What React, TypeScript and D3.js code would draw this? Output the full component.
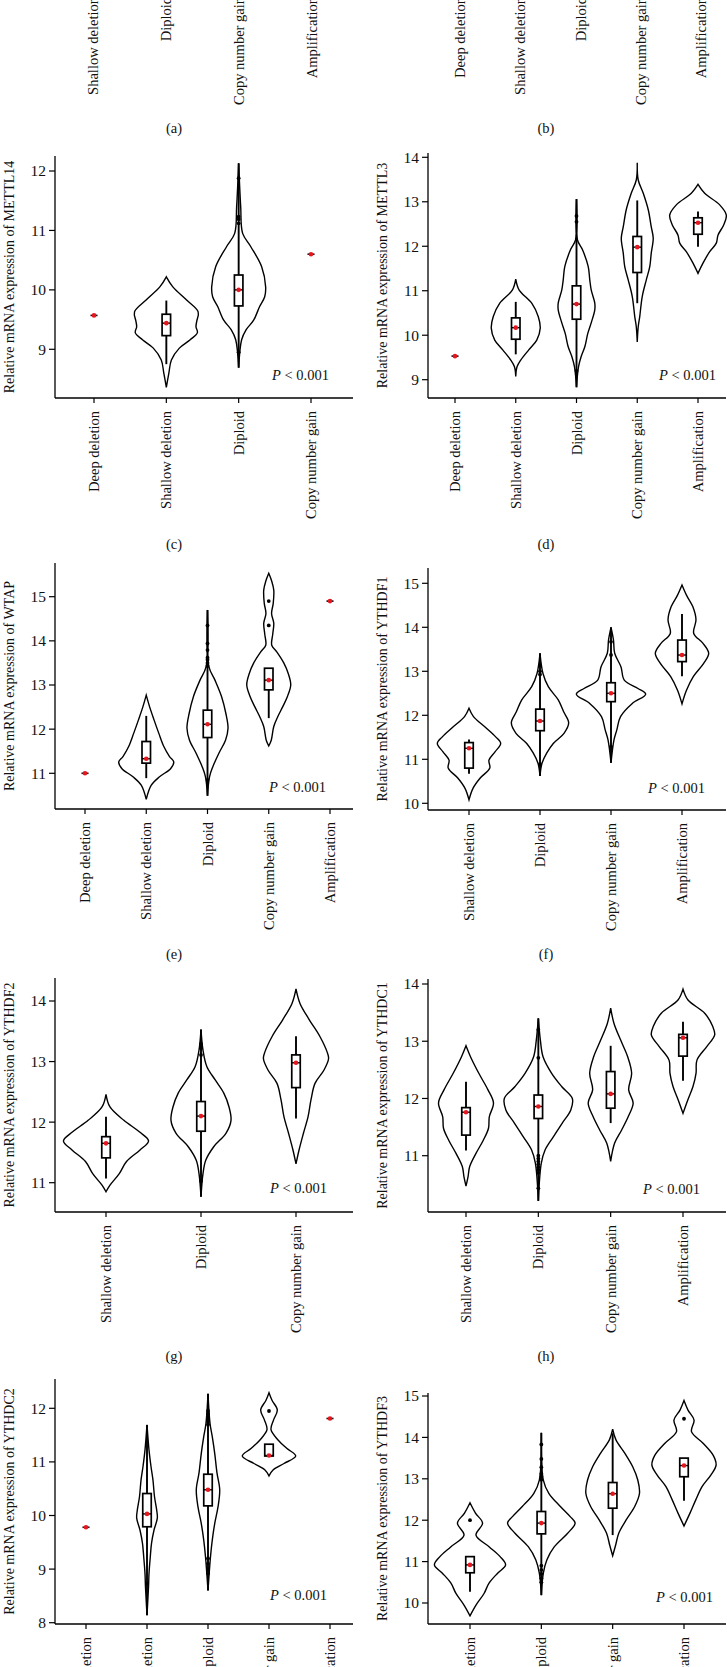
import React from 'react';
import * as d3 from 'd3';

type Dens = [number, number][];
interface Group {
  cat: string;
  single?: number;
  box?: [number, number, number];
  whisk?: [number, number];
  out?: number[];
  dens?: Dens;
}

const DEEP = 'Deep deletion';
const SHALLOW = 'Shallow deletion';
const DIPLOID = 'Diploid';
const GAIN = 'Copy number gain';
const AMP = 'Amplification';

const catsA = [SHALLOW, DIPLOID, GAIN, AMP];
const catsB = [DEEP, SHALLOW, DIPLOID, GAIN, AMP];
const catsMETTL14 = [DEEP, SHALLOW, DIPLOID, GAIN];
const catsMETTL3 = [DEEP, SHALLOW, DIPLOID, GAIN, AMP];
const catsWTAP = [DEEP, SHALLOW, DIPLOID, GAIN, AMP];
const catsYTHDF1 = [SHALLOW, DIPLOID, GAIN, AMP];
const catsYTHDF2 = [SHALLOW, DIPLOID, GAIN];
const catsYTHDC1 = [SHALLOW, DIPLOID, GAIN, AMP];
const catsYTHDC2 = [DEEP, SHALLOW, DIPLOID, GAIN, AMP];
const catsYTHDF3 = [SHALLOW, DIPLOID, GAIN, AMP];

const ticksMETTL14 = [9, 10, 11, 12];
const ticksMETTL3 = [9, 10, 11, 12, 13, 14];
const ticksWTAP = [11, 12, 13, 14, 15];
const ticksYTHDF1 = [10, 11, 12, 13, 14, 15];
const ticksYTHDF2 = [11, 12, 13, 14];
const ticksYTHDC1 = [11, 12, 13, 14];
const ticksYTHDC2 = [8, 9, 10, 11, 12];
const ticksYTHDF3 = [10, 11, 12, 13, 14, 15];

const groupsMETTL14: Group[] = [
  { cat: DEEP, single: 9.57 },
  { cat: SHALLOW, box: [9.23, 9.44, 9.59], whisk: [8.75, 9.82], out: [],
    dens: [[10.22, 0], [10.05, 0.09], [9.83, 0.28], [9.63, 0.44], [9.47, 0.42], [9.38, 0.41], [9.28, 0.43], [9.16, 0.33], [9.02, 0.18], [8.82, 0.07], [8.6, 0.035], [8.36, 0]] },
  { cat: DIPLOID, box: [9.73, 10.0, 10.25], whisk: [8.69, 12.13], out: [11.88, 11.23, 11.19, 11.12, 8.95],
    dens: [[12.13, 0], [11.4, 0.028], [10.95, 0.055], [10.73, 0.166], [10.39, 0.318], [10.05, 0.373], [9.885, 0.36], [9.72, 0.29], [9.49, 0.207], [9.33, 0.104], [9.16, 0.041], [8.69, 0]] },
  { cat: GAIN, single: 10.6 },
];

const groupsMETTL3: Group[] = [
  { cat: DEEP, single: 9.53 },
  { cat: SHALLOW, box: [9.91, 10.17, 10.39], whisk: [9.57, 10.75], out: [],
    dens: [[11.26, 0], [11.02, 0.054], [10.72, 0.263], [10.42, 0.37], [10.16, 0.403], [9.89, 0.346], [9.67, 0.214], [9.44, 0.082], [9.29, 0.021], [9.07, 0]] },
  { cat: DIPLOID, box: [10.36, 10.7, 11.11], whisk: [8.83, 13.06], out: [12.68, 12.55, 9.2],
    dens: [[13.06, 0], [12.14, 0.016], [11.92, 0.099], [11.54, 0.193], [11.24, 0.219], [11.02, 0.242], [10.72, 0.301], [10.57, 0.301], [10.3, 0.247], [10.04, 0.186], [9.74, 0.137], [9.52, 0.077], [9.29, 0.033], [8.83, 0]] },
  { cat: GAIN, box: [11.41, 11.98, 12.22], whisk: [10.72, 13.03], out: [],
    dens: [[13.88, 0], [13.49, 0.016], [13.19, 0.099], [12.82, 0.181], [12.44, 0.23], [12.18, 0.263], [11.84, 0.23], [11.54, 0.206], [11.24, 0.148], [10.87, 0.082], [10.42, 0.041], [10.19, 0.016], [9.85, 0]] },
  { cat: AMP, box: [12.27, 12.53, 12.64], whisk: [11.99, 12.78], out: [],
    dens: [[13.39, 0], [13.19, 0.11], [12.93, 0.357], [12.7, 0.466], [12.48, 0.423], [12.25, 0.329], [12.07, 0.301], [11.88, 0.193], [11.62, 0.082], [11.39, 0]] },
];

const groupsWTAP: Group[] = [
  { cat: DEEP, single: 11.0 },
  { cat: SHALLOW, box: [11.23, 11.33, 11.72], whisk: [10.89, 12.3], out: [],
    dens: [[12.77, 0], [12.51, 0.054], [12.21, 0.127], [11.91, 0.204], [11.6, 0.289], [11.38, 0.38], [11.26, 0.449], [11.11, 0.4], [10.92, 0.217], [10.73, 0.082], [10.41, 0]] },
  { cat: DIPLOID, box: [11.81, 12.11, 12.43], whisk: [10.49, 14.7], out: [14.35, 13.94, 13.79, 13.62, 13.57, 13.5, 13.43, 10.85],
    dens: [[14.7, 0], [13.41, 0.024], [13.11, 0.122], [12.74, 0.229], [12.36, 0.299], [12.02, 0.335], [11.75, 0.294], [11.45, 0.184], [11.15, 0.087], [10.92, 0.033], [10.49, 0]] },
  { cat: GAIN, box: [12.89, 13.11, 13.38], whisk: [12.25, 13.38], out: [14.9, 14.35],
    dens: [[15.53, 0], [15.35, 0.049], [15.15, 0.082], [14.85, 0.073], [14.62, 0.046], [14.4, 0.082], [14.15, 0.065], [13.9, 0.049], [13.75, 0.131], [13.5, 0.245], [13.26, 0.318], [13.0, 0.359], [12.74, 0.305], [12.51, 0.229], [12.28, 0.147], [12.06, 0.082], [11.75, 0.041], [11.62, 0]] },
  { cat: AMP, single: 14.9 },
];

const groupsYTHDF1: Group[] = [
  { cat: SHALLOW, box: [10.8, 11.25, 11.38], whisk: [10.67, 11.45], out: [],
    dens: [[12.16, 0], [11.97, 0.063], [11.74, 0.222], [11.51, 0.376], [11.36, 0.446], [11.17, 0.366], [10.98, 0.281], [10.8, 0.293], [10.57, 0.155], [10.34, 0.056], [10.08, 0]] },
  { cat: DIPLOID, box: [11.65, 11.87, 12.14], whisk: [10.62, 13.41], out: [13.14, 13.0, 12.93, 10.89],
    dens: [[13.41, 0], [12.95, 0.042], [12.65, 0.117], [12.35, 0.257], [12.08, 0.333], [11.83, 0.404], [11.59, 0.338], [11.36, 0.187], [11.14, 0.094], [10.91, 0.028], [10.62, 0]] },
  { cat: GAIN, box: [12.31, 12.5, 12.74], whisk: [10.92, 14.0], out: [13.67, 13.37, 11.29],
    dens: [[14.0, 0], [13.71, 0.035], [13.41, 0.052], [13.1, 0.141], [12.8, 0.187], [12.61, 0.38], [12.48, 0.488], [12.27, 0.3], [11.97, 0.134], [11.67, 0.082], [11.44, 0.042], [10.92, 0]] },
  { cat: AMP, box: [13.22, 13.37, 13.71], whisk: [12.89, 14.3], out: [],
    dens: [[14.96, 0], [14.73, 0.063], [14.47, 0.152], [14.17, 0.197], [13.86, 0.165], [13.64, 0.293], [13.41, 0.376], [13.18, 0.305], [12.88, 0.159], [12.57, 0.063], [12.26, 0]] },
];

const groupsYTHDF2: Group[] = [
  { cat: SHALLOW, box: [11.41, 11.65, 11.76], whisk: [11.07, 12.09], out: [],
    dens: [[12.46, 0], [12.25, 0.042], [12.03, 0.188], [11.84, 0.351], [11.69, 0.448], [11.54, 0.358], [11.35, 0.216], [11.15, 0.14], [10.96, 0.042], [10.85, 0]] },
  { cat: DIPLOID, box: [11.85, 12.1, 12.34], whisk: [10.77, 13.53], out: [13.29, 13.25, 13.22, 13.11, 11.03],
    dens: [[13.53, 0], [13.19, 0.021], [12.92, 0.061], [12.7, 0.148], [12.48, 0.24], [12.25, 0.295], [12.03, 0.316], [11.82, 0.264], [11.59, 0.132], [11.37, 0.05], [11.15, 0.021], [10.77, 0]] },
  { cat: GAIN, box: [12.57, 12.98, 13.11], whisk: [12.06, 13.42], out: [],
    dens: [[14.2, 0], [13.96, 0.042], [13.69, 0.14], [13.41, 0.253], [13.16, 0.327], [13.05, 0.343], [12.86, 0.295], [12.64, 0.2], [12.37, 0.158], [12.09, 0.127], [11.82, 0.079], [11.54, 0.032], [11.31, 0]] },
];

const groupsYTHDC1: Group[] = [
  { cat: SHALLOW, box: [11.36, 11.76, 11.84], whisk: [11.09, 12.29], out: [],
    dens: [[12.92, 0], [12.73, 0.062], [12.44, 0.177], [12.15, 0.304], [11.92, 0.38], [11.68, 0.322], [11.48, 0.311], [11.27, 0.239], [11.04, 0.138], [10.81, 0.051], [10.63, 0.028], [10.47, 0]] },
  { cat: DIPLOID, box: [11.65, 11.86, 12.06], whisk: [10.21, 13.4], out: [13.2, 12.71, 11.0, 10.95, 10.9, 10.85, 10.8, 10.75, 10.7, 10.43],
    dens: [[13.4, 0], [13.02, 0.028], [12.73, 0.065], [12.44, 0.184], [12.21, 0.322], [12.0, 0.47], [11.8, 0.449], [11.57, 0.331], [11.33, 0.207], [11.1, 0.093], [10.87, 0.041], [10.21, 0]] },
  { cat: GAIN, box: [11.83, 12.08, 12.47], whisk: [11.57, 12.92], out: [],
    dens: [[13.58, 0], [13.31, 0.046], [13.02, 0.138], [12.73, 0.235], [12.44, 0.29], [12.15, 0.249], [11.92, 0.311], [11.68, 0.242], [11.45, 0.152], [11.22, 0.055], [10.9, 0]] },
  { cat: AMP, box: [12.74, 13.06, 13.12], whisk: [12.31, 13.34], out: [],
    dens: [[13.91, 0], [13.72, 0.069], [13.49, 0.3], [13.26, 0.41], [13.11, 0.438], [12.91, 0.331], [12.67, 0.193], [12.44, 0.18], [12.21, 0.138], [11.97, 0.065], [11.74, 0]] },
];

const groupsYTHDC2: Group[] = [
  { cat: DEEP, single: 9.78 },
  { cat: SHALLOW, box: [9.79, 10.03, 10.41], whisk: [8.14, 11.69], out: [8.73],
    dens: [[11.69, 0], [11.22, 0.033], [10.91, 0.066], [10.66, 0.098], [10.35, 0.123], [10.1, 0.159], [9.95, 0.169], [9.73, 0.115], [9.48, 0.074], [9.23, 0.054], [8.92, 0.033], [8.67, 0.025], [8.14, 0]] },
  { cat: DIPLOID, box: [10.18, 10.48, 10.77], whisk: [8.6, 12.27], out: [11.95, 11.9, 11.82, 11.75, 11.7, 9.2, 9.1, 9.0, 8.92],
    dens: [[12.27, 0], [11.72, 0.033], [11.47, 0.07], [11.16, 0.11], [10.79, 0.148], [10.48, 0.192], [10.16, 0.164], [9.85, 0.11], [9.54, 0.07], [9.23, 0.041], [8.6, 0]] },
  { cat: GAIN, box: [11.11, 11.12, 11.33], out: [11.95],
    dens: [[12.29, 0], [12.15, 0.049], [11.97, 0.136], [11.78, 0.074], [11.6, 0.033], [11.41, 0.148], [11.25, 0.295], [11.11, 0.438], [10.97, 0.246], [10.85, 0.066], [10.74, 0]] },
  { cat: AMP, single: 11.81 },
];

const groupsYTHDF3: Group[] = [
  { cat: SHALLOW, box: [10.73, 10.92, 11.12], whisk: [10.27, 11.12], out: [12.0],
    dens: [[12.42, 0], [12.17, 0.077], [11.93, 0.176], [11.64, 0.084], [11.36, 0.267], [11.12, 0.422], [10.92, 0.499], [10.72, 0.387], [10.48, 0.267], [10.23, 0.197], [9.95, 0.084], [9.69, 0]] },
  { cat: DIPLOID, box: [11.67, 11.93, 12.21], whisk: [10.19, 14.11], out: [13.83, 13.48, 13.28, 13.12, 13.05, 12.98, 10.9, 10.8, 10.7, 10.6, 10.5],
    dens: [[14.11, 0], [12.97, 0.028], [12.65, 0.105], [12.33, 0.267], [12.08, 0.408], [11.93, 0.474], [11.68, 0.366], [11.36, 0.183], [11.04, 0.077], [10.72, 0.028], [10.19, 0]] },
  { cat: GAIN, box: [12.29, 12.64, 12.91], whisk: [11.64, 14.1], out: [],
    dens: [[14.2, 0], [13.94, 0.046], [13.62, 0.169], [13.29, 0.281], [12.97, 0.352], [12.65, 0.376], [12.33, 0.309], [12.0, 0.187], [11.68, 0.084], [11.4, 0.042], [11.14, 0]] },
  { cat: AMP, box: [13.05, 13.32, 13.5], whisk: [12.47, 13.5], out: [14.45],
    dens: [[14.89, 0], [14.66, 0.056], [14.42, 0.141], [14.14, 0.105], [13.86, 0.267], [13.57, 0.408], [13.33, 0.45], [13.09, 0.376], [12.81, 0.253], [12.49, 0.165], [12.17, 0.084], [11.86, 0]] },
];

interface Layout {
  left: number; right: number; top: number; bottom: number;
  x0: number; x1: number; v0: number; p0: number; v1: number; p1: number;
  pX: number; pY: number; titleX: number; tag: string; tagX: number; tagY: number;
}

interface PanelCfg { gene?: string; cats: string[]; ticks: number[]; groups: Group[]; L: Layout; }

const PANELS: PanelCfg[] = [
  { cats: catsA, ticks: [], groups: [],
    L: { left: 55, right: 353, top: -260, bottom: -16, x0: 93, x1: 312, v0: 0, p0: -16, v1: 1, p1: -260, pX: 272, pY: -40, titleX: 9, tag: '(a)', tagX: 174, tagY: 128 } },
  { cats: catsB, ticks: [], groups: [],
    L: { left: 428, right: 726, top: -260, bottom: -16, x0: 460, x1: 701, v0: 0, p0: -16, v1: 1, p1: -260, pX: 659, pY: -40, titleX: 382, tag: '(b)', tagX: 546, tagY: 128 } },
  { gene: 'METTL14', cats: catsMETTL14, ticks: ticksMETTL14, groups: groupsMETTL14,
    L: { left: 55, right: 353, top: 156, bottom: 398, x0: 94, x1: 311, v0: 9, p0: 349.3, v1: 12, p1: 171, pX: 272, pY: 375, titleX: 9, tag: '(c)', tagX: 174, tagY: 544 } },
  { gene: 'METTL3', cats: catsMETTL3, ticks: ticksMETTL3, groups: groupsMETTL3,
    L: { left: 428, right: 726, top: 153, bottom: 398, x0: 455, x1: 698, v0: 9, p0: 379.7, v1: 14, p1: 157.3, pX: 659, pY: 375, titleX: 382, tag: '(d)', tagX: 546, tagY: 544 } },
  { gene: 'WTAP', cats: catsWTAP, ticks: ticksWTAP, groups: groupsWTAP,
    L: { left: 55, right: 353, top: 563, bottom: 809, x0: 85, x1: 330, v0: 11, p0: 773.3, v1: 15, p1: 596.7, pX: 269, pY: 787, titleX: 9, tag: '(e)', tagX: 174, tagY: 954 } },
  { gene: 'YTHDF1', cats: catsYTHDF1, ticks: ticksYTHDF1, groups: groupsYTHDF1,
    L: { left: 428, right: 726, top: 568, bottom: 810, x0: 469, x1: 682, v0: 10, p0: 803.3, v1: 15, p1: 583.3, pX: 648, pY: 788, titleX: 382, tag: '(f)', tagX: 546, tagY: 954 } },
  { gene: 'YTHDF2', cats: catsYTHDF2, ticks: ticksYTHDF2, groups: groupsYTHDF2,
    L: { left: 55, right: 353, top: 978, bottom: 1212, x0: 106, x1: 296, v0: 11, p0: 1182.7, v1: 14, p1: 1001, pX: 270, pY: 1188, titleX: 9, tag: '(g)', tagX: 174, tagY: 1356 } },
  { gene: 'YTHDC1', cats: catsYTHDC1, ticks: ticksYTHDC1, groups: groupsYTHDC1,
    L: { left: 428, right: 726, top: 979, bottom: 1212, x0: 466, x1: 683, v0: 11, p0: 1155.7, v1: 14, p1: 984, pX: 643, pY: 1189, titleX: 382, tag: '(h)', tagX: 546, tagY: 1356 } },
  { gene: 'YTHDC2', cats: catsYTHDC2, ticks: ticksYTHDC2, groups: groupsYTHDC2,
    L: { left: 55, right: 353, top: 1379, bottom: 1624, x0: 86, x1: 330, v0: 8, p0: 1622.7, v1: 12, p1: 1408.3, pX: 270, pY: 1595, titleX: 9, tag: '(i)', tagX: 174, tagY: 1770 } },
  { gene: 'YTHDF3', cats: catsYTHDF3, ticks: ticksYTHDF3, groups: groupsYTHDF3,
    L: { left: 428, right: 726, top: 1393, bottom: 1624, x0: 470, x1: 684, v0: 10, p0: 1603, v1: 15, p1: 1396, pX: 656, pY: 1597, titleX: 382, tag: '(j)', tagX: 546, tagY: 1770 } },
];

const FONT = "'Liberation Serif', 'Times New Roman', serif";
const RED = '#e5161d';
const FS = 14.5;
const TICK_FS = 15.5;

function Panel({ cfg }: { cfg: PanelCfg }) {
  const { L, cats, ticks, groups, gene } = cfg;
  const x = d3.scalePoint<string>().domain(cats).range([L.x0, L.x1]);
  const step = x.step();
  const y = d3.scaleLinear().domain([L.v0, L.v1]).range([L.p0, L.p1]);
  const boxW = 8.5;

  return (
    <g>
      {groups.map((g, i) => {
        const cx = x(g.cat) as number;
        if (g.single !== undefined) {
          return (
            <g key={i}>
              <line x1={cx - 3.5} x2={cx + 3.5} y1={y(g.single)} y2={y(g.single)} stroke="#000" strokeWidth={1.6} />
              <circle cx={cx} cy={y(g.single)} r={2.3} fill={RED} />
            </g>
          );
        }
        const area = d3.area<[number, number]>()
          .y((d) => y(d[0]))
          .x0((d) => cx - d[1] * step)
          .x1((d) => cx + d[1] * step)
          .curve(d3.curveCatmullRom.alpha(0.5));
        const [q1, med, q3] = g.box as [number, number, number];
        return (
          <g key={i}>
            <path d={area(g.dens as Dens) || ''} fill="#fff" stroke="#000" strokeWidth={1.4} />
            {g.whisk && (
              <line x1={cx} x2={cx} y1={y(g.whisk[0])} y2={y(g.whisk[1])} stroke="#000" strokeWidth={1.9} />
            )}
            {(g.out || []).map((o, k) => (
              <circle key={k} cx={cx} cy={y(o)} r={1.9} fill="#000" />
            ))}
            <rect x={cx - boxW / 2} width={boxW} y={y(q3)} height={Math.max(0.5, y(q1) - y(q3))}
              fill="#fff" stroke="#000" strokeWidth={1.7} />
            <line x1={cx - boxW / 2} x2={cx + boxW / 2} y1={y(med)} y2={y(med)} stroke="#000" strokeWidth={1.4} />
            <circle cx={cx} cy={y(med)} r={2.3} fill={RED} />
          </g>
        );
      })}

      <line x1={L.left} x2={L.left} y1={L.top} y2={L.bottom} stroke="#000" strokeWidth={1.3} />
      <line x1={L.left} x2={L.right} y1={L.bottom} y2={L.bottom} stroke="#000" strokeWidth={1.3} />
      {ticks.map((t) => (
        <g key={t}>
          <line x1={L.left - 6} x2={L.left} y1={y(t)} y2={y(t)} stroke="#000" strokeWidth={1.2} />
          <text x={L.left - 9} y={y(t)} dy="0.35em" textAnchor="end" fontSize={TICK_FS} fontFamily={FONT} fill="#111">{t}</text>
        </g>
      ))}
      {cats.map((c) => {
        const cx = x(c) as number;
        return (
          <g key={c}>
            <line x1={cx} x2={cx} y1={L.bottom} y2={L.bottom + 5} stroke="#000" strokeWidth={1.2} />
            <text transform={`translate(${cx},${L.bottom + 13}) rotate(-90)`} dy="0.35em" textAnchor="end"
              fontSize={FS} fontFamily={FONT} fill="#111">{c}</text>
          </g>
        );
      })}
      {gene && (
        <text transform={`translate(${L.titleX},${(L.top + L.bottom) / 2}) rotate(-90)`} dy="0.35em" textAnchor="middle"
          fontSize={14} fontFamily={FONT} fill="#111">{`Relative mRNA expression of ${gene}`}</text>
      )}
      {gene && (
        <text x={L.pX} y={L.pY} dy="0.35em" fontSize={14.5} fontFamily={FONT} fill="#111">
          <tspan fontStyle="italic">P</tspan>{' < 0.001'}
        </text>
      )}
      <text x={L.tagX} y={L.tagY} dy="0.35em" textAnchor="middle" fontSize={FS} fontFamily={FONT} fill="#111">{L.tag}</text>
    </g>
  );
}

export default function App() {
  React.useEffect(() => {
    document.body.style.margin = '0';
  }, []);
  return (
    <svg width={727} height={1667} viewBox="0 0 727 1667" style={{ display: 'block', position: 'absolute', left: 0, top: 0, background: '#fff' }}>
      <rect width={727} height={1667} fill="#fff" />
      {PANELS.map((p, i) => (
        <Panel key={i} cfg={p} />
      ))}
    </svg>
  );
}
